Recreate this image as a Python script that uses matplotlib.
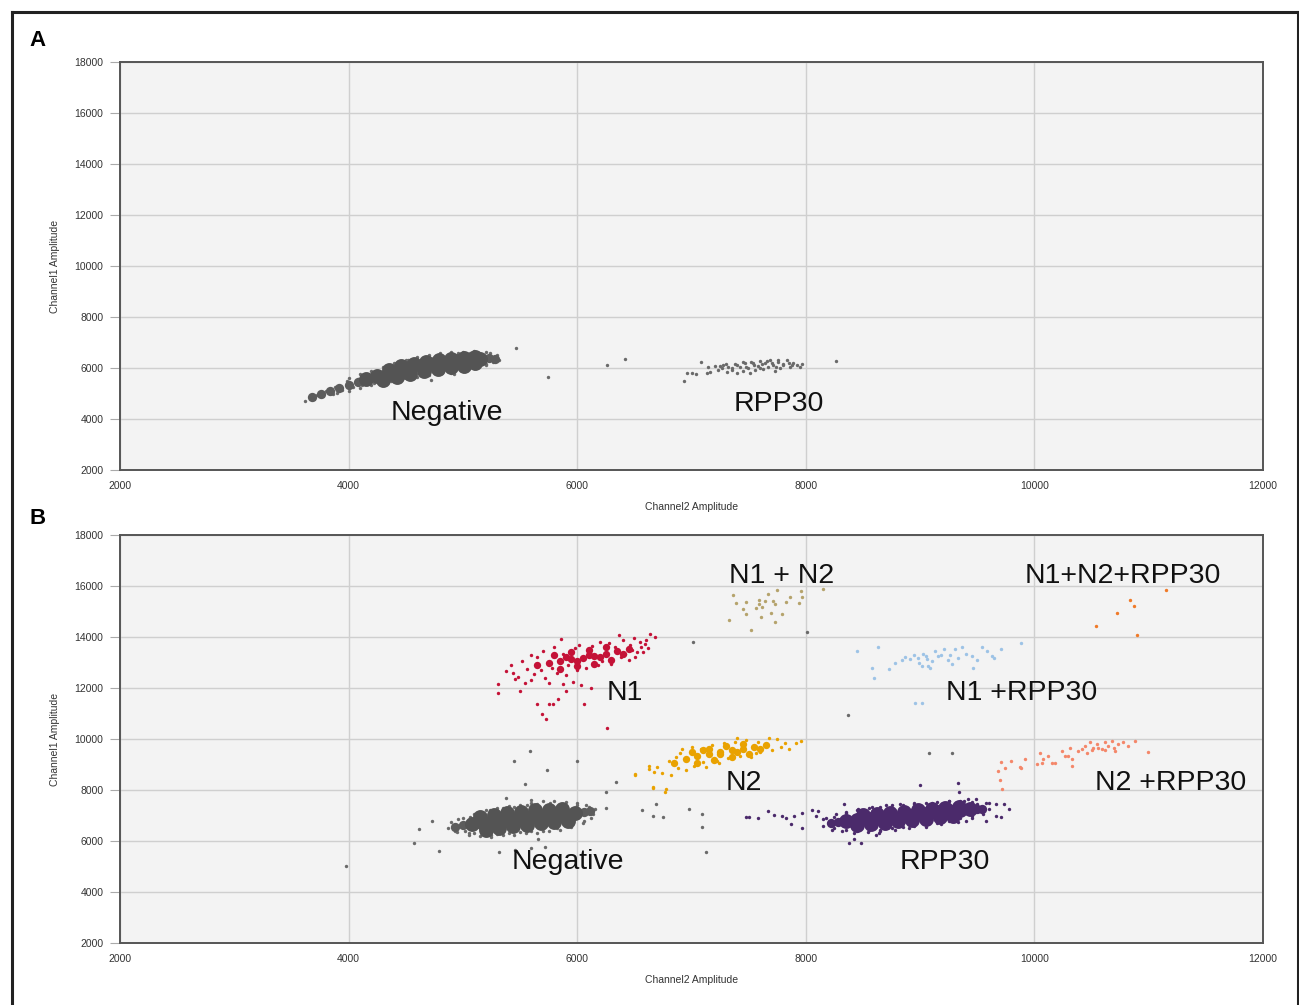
import matplotlib
matplotlib.use("Agg")
import matplotlib.pyplot as plt
from matplotlib.lines import Line2D

# ---------------- data (Channel2 amplitude = x, Channel1 amplitude = y) ----------------
x_ticks = [2000, 4000, 6000, 8000, 10000, 12000]
y_ticks = [2000, 4000, 6000, 8000, 10000, 12000, 14000, 16000, 18000]

# Panel A - Negative cluster: dense core, tapered tip, fringe droplets
a_neg_core_x = [4150, 4250, 4350, 4450, 4550, 4650, 4750, 4850, 4950, 5050, 5150,
                4350, 4460, 4570, 4680, 4790, 4900, 5010, 5110,
                4300, 4420, 4540, 4660, 4780, 4900, 5010, 5110]
a_neg_core_y = [5560, 5680, 5800, 5920, 6020, 6090, 6150, 6210, 6260, 6320, 6370,
                5930, 6060, 6170, 6250, 6310, 6360, 6390, 6420,
                5540, 5660, 5780, 5870, 5950, 6020, 6090, 6180]
a_neg_tip_x = [3680, 3760, 3840, 3920, 4000, 4080, 5230, 5280]
a_neg_tip_y = [4880, 4990, 5110, 5230, 5340, 5450, 6380, 6360]
a_neg_x = [3620, 3660, 3700, 3720, 3780, 3800, 3860, 3880, 3940, 3990, 4040, 4080, 4120, 4180, 4220, 4290,
           4330, 4370, 4420, 4480, 4520, 4560, 4600, 4640, 4700, 4720, 4780, 4820, 4880, 4920, 4960, 5020,
           5060, 5100, 5160, 5200, 5240, 5260, 5300, 5320, 5280,
           4000, 4100, 4200, 4300, 4400, 4500, 4600, 4700, 4800, 4900, 5000, 5100, 5200,
           3900, 4000, 4100, 4200, 4300, 4400, 4500, 4600, 4700, 4800, 4900, 5000, 5100, 5200]
a_neg_y = [4700, 4850, 4780, 4950, 4900, 5080, 4980, 5250, 5120, 5480, 5250, 5580, 5350, 5720, 5420, 5340,
           5900, 5480, 6150, 5600, 6300, 5620, 6350, 5700, 6450, 5540, 6520, 5800, 6550, 5760, 6580, 5900,
           6600, 6050, 6560, 6150, 6600, 6250, 6500, 6300, 6400,
           5620, 5750, 5880, 6050, 6200, 6330, 6420, 6500, 6580, 6620, 6640, 6650, 6620,
           5000, 5100, 5200, 5320, 5420, 5520, 5600, 5660, 5720, 5780, 5820, 5900, 6000, 6120]
a_out_x = [5465, 5743, 6261, 6414, 8262]
a_out_y = [6800, 5664, 6122, 6358, 6278]

# Panel A - RPP30 cluster
a_rpp_x = [6935, 6958, 7002, 7040, 7081, 7148, 7133, 7163, 7206, 7235, 7265, 7279, 7308, 7323, 7352, 7381,
           7396, 7425, 7454, 7469, 7498, 7513, 7542, 7556, 7585, 7600, 7629, 7644, 7673, 7688, 7711, 7731,
           7760, 7775, 7804, 7833, 7863, 7892, 7921, 7950, 7965, 7300, 7400, 7480, 7550, 7620, 7700, 7740,
           7800, 7850, 7600, 7450, 7350, 7520, 7660, 7760, 7880, 7250]
a_rpp_y = [5507, 5795, 5821, 5769, 6226, 6056, 5795, 5860, 6083, 5926, 5991, 6122, 5860, 6056, 5926, 6161,
           5795, 6030, 5900, 6187, 5991, 5795, 6187, 5926, 6083, 6292, 5952, 6187, 6056, 6318, 6122, 5900,
           6252, 5991, 6161, 6318, 6056, 6213, 6122, 6056, 6161, 6150, 6100, 6050, 6100, 6150, 6200, 6050,
           6100, 6180, 6000, 6250, 6000, 6240, 6260, 6300, 6120, 6080]

# Panel B - Negative cluster
b_neg_core_x = [5080, 5180, 5280, 5380, 5480, 5580, 5680, 5780, 5880, 5980,
                5150, 5270, 5390, 5510, 5630, 5750, 5870,
                5200, 5320, 5440, 5560, 5680, 5800, 5920]
b_neg_core_y = [6650, 6710, 6760, 6820, 6870, 6910, 6950, 6980, 7030, 7080,
                6950, 7020, 7080, 7150, 7200, 7230, 7260,
                6450, 6520, 6580, 6640, 6690, 6730, 6800]
b_neg_tip_x = [4930, 5000, 6060, 6110]
b_neg_tip_y = [6560, 6610, 7130, 7160]
b_neg_x = [4870, 4900, 4930, 4960, 5020, 5060, 5100, 5130, 5200, 5240, 5300, 5350, 5400, 5450, 5500, 5560,
           5600, 5650, 5700, 5760, 5820, 5880, 5940, 6000, 6060, 6100, 6140, 6160, 5380, 5600, 5250, 5050,
           5000, 5100, 5200, 5300, 5400, 5500, 5600, 5700, 5800, 5900, 6000, 6080,
           4950, 5050, 5150, 5250, 5350, 5450, 5550, 5650, 5750, 5850, 5950, 6050, 6120]
b_neg_y = [6500, 6750, 6380, 6850, 6400, 6950, 6300, 7100, 6230, 7200, 6280, 7300, 6300, 7350, 6350, 7400,
           6400, 7450, 6380, 7480, 6500, 7450, 6600, 7400, 6800, 7350, 7050, 7250, 7700, 7600, 6150, 6250,
           6900, 7050, 7200, 7280, 7380, 7420, 7500, 7550, 7550, 7520, 7480, 7420,
           6350, 6300, 6200, 6220, 6230, 6250, 6300, 6330, 6400, 6450, 6550, 6700, 6900]
b_grey_x = [3980, 4570, 4620, 4730, 4790, 5320, 5460, 5600, 5720, 5660, 5450, 5590, 5540, 6000, 5740, 6250,
            6340, 6250, 7010, 8370, 8010, 6570, 6690, 6660, 6750, 6980, 7090, 7090, 7130, 9080, 9275]
b_grey_y = [5020, 5930, 6470, 6780, 5610, 5550, 5640, 5730, 5770, 6070, 9150, 9510, 8230, 9150, 8800, 7940,
            8300, 7300, 13820, 10960, 14180, 7220, 7440, 6980, 6960, 7240, 7050, 6550, 5580, 9440, 9440]

# Panel B - N1
n1_core_x = [5650, 5750, 5850, 5950, 6050, 6150, 6250, 6350, 6450, 5800, 5950, 6100, 6250, 5850, 6000, 6150,
             6300, 5900, 6000, 6100, 6200, 6400]
n1_core_y = [12900, 12980, 13050, 13120, 13190, 13260, 13350, 13440, 13530, 13300, 13400, 13480, 13600,
             12750, 12850, 12950, 13100, 13200, 13050, 13300, 13200, 13350]
n1_x = [5310, 5310, 5500, 5650, 5690, 5730, 5750, 5790, 5830, 6060, 6120, 6260, 5440, 5600, 5650, 5860,
        6370, 6640, 6590, 6510, 6580, 5960, 6030, 6480, 5380, 5420, 5480, 5520, 5560, 5600, 5620, 5680,
        5700, 5720, 5780, 5800, 5820, 5880, 5900, 5920, 5980, 6000, 6020, 6080, 6100, 6130, 6180, 6200,
        6220, 6280, 6300, 6330, 6380, 6400, 6420, 6460, 6500, 6520, 6560, 6600, 6620, 6680, 6550, 6450,
        5750, 5880, 5540, 5460, 5900]
n1_y = [11820, 12170, 11880, 11390, 10990, 10800, 11360, 11390, 11580, 11390, 12010, 10430, 12600, 12300,
        13220, 13940, 14070, 14110, 13740, 13220, 13410, 12240, 12130, 13480, 12650, 12900, 12450, 13050,
        12750, 13300, 12550, 12700, 13450, 12400, 12800, 13600, 12600, 13350, 12500, 12900, 13550, 12700,
        13700, 12800, 13350, 13650, 12900, 13800, 13050, 13750, 12950, 13600, 13200, 13900, 13350, 13700,
        13950, 13400, 13600, 13900, 13550, 14000, 13800, 13100, 12200, 12150, 12200, 12350, 11900]

# Panel B - N2
n2_core_x = [6850, 6950, 7050, 7150, 7250, 7350, 7450, 7550, 7650, 7000, 7150, 7300, 7450, 7050, 7200, 7350,
             7500, 7100, 7250, 7400, 7600]
n2_core_y = [9050, 9200, 9320, 9420, 9490, 9560, 9620, 9700, 9770, 9480, 9620, 9720, 9820, 9050, 9180, 9300,
             9420, 9550, 9400, 9500, 9620]
n2_x = [6630, 6780, 6510, 6660, 7750, 7960, 7910, 6510, 6630, 6670, 6770, 6660, 6860, 6920, 6700, 6740,
        6800, 6820, 6880, 6900, 6950, 7000, 7020, 7080, 7100, 7180, 7220, 7280, 7320, 7380, 7420, 7480,
        7520, 7580, 7600, 7680, 7700, 7780, 7820, 7850, 7130, 7240, 7560, 7400]
n2_y = [8810, 8030, 8620, 8090, 9990, 9920, 9860, 8580, 8940, 8710, 7920, 8120, 9300, 9620, 8900, 8650,
        9150, 8600, 8850, 9450, 8800, 9700, 8950, 9600, 9100, 9750, 9150, 9850, 9250, 9900, 9350, 9950,
        9300, 9900, 9500, 10050, 9550, 9700, 9850, 9600, 8900, 9050, 9450, 10050]

# Panel B - N1 + N2
n12_x = [7364, 7393, 7475, 7452, 7475, 7562, 7591, 7615, 7591, 7665, 7717, 7729, 7752, 7825, 7860, 7796,
         7732, 7606, 7519, 7329, 7965, 7942, 7956, 8149, 7694, 7644]
n12_y = [15647, 15320, 15373, 15111, 14889, 15150, 15281, 15190, 15451, 15673, 15412, 15281, 15843, 15373,
         15569, 14889, 14588, 14798, 14275, 14667, 15582, 15346, 15804, 15895, 14954, 15412]

# Panel B - N1 + RPP30
n1r_x = [8445, 8635, 8577, 8600, 8728, 8781, 8839, 8868, 8912, 8985, 9029, 9058, 9073, 9014, 8956, 9131,
         9160, 9212, 9262, 9306, 9335, 9364, 9452, 9466, 9539, 9583, 9627, 9650, 9708, 9883, 9087, 8990,
         9050, 9100, 9180, 9240, 9283, 8950, 9020, 9400, 9500]
n1r_y = [13451, 13621, 12798, 12406, 12733, 12968, 13098, 13229, 13125, 13190, 13320, 13151, 12863, 11426,
         11399, 13451, 13255, 13543, 13281, 13517, 13177, 13621, 13255, 12798, 13621, 13451, 13255, 13190,
         13543, 13752, 12798, 13000, 13250, 13050, 13300, 13100, 12950, 13280, 12880, 13350, 13100]

# Panel B - N2 + RPP30
n2r_x = [9685, 9708, 9743, 9700, 9714, 9793, 9883, 9918, 10050, 10073, 10123, 10181, 10239, 10268, 10312,
         10292, 10327, 10385, 10443, 10458, 10487, 10516, 10545, 10589, 10618, 10647, 10677, 10706, 10735,
         10779, 10823, 10881, 10992, 10327, 10152, 10070, 10020, 9875, 10560, 10620, 10700, 10500, 10420]
n2r_y = [8746, 9099, 8877, 8393, 8027, 9138, 8877, 9204, 9465, 9230, 9334, 9073, 9530, 9334, 9661,
         9334, 9204, 9530, 9726, 9465, 9883, 9661, 9792, 9596, 9883, 9726, 9922, 9530, 9792,
         9883, 9726, 9922, 9491, 8942, 9047, 9073, 9008, 8903, 9650, 9550, 9650, 9550, 9600]

# Panel B - N1 + N2 + RPP30
n12r_x = [11150, 10840, 10870, 10720, 10540, 10895]
n12r_y = [15850, 15450, 15220, 14950, 14430, 14090]

# Panel B - RPP30
b_rpp_core_x = [8350, 8450, 8550, 8650, 8750, 8850, 8950, 9050, 9150, 9250, 9350, 9440,
                8500, 8620, 8740, 8860, 8980, 9100, 9220, 9340,
                8450, 8570, 8690, 8810, 8930, 9050, 9170, 9290]
b_rpp_core_y = [6770, 6810, 6850, 6900, 6940, 6980, 7020, 7070, 7120, 7170, 7210, 7240,
                7030, 7070, 7110, 7150, 7200, 7250, 7300, 7320,
                6640, 6680, 6720, 6770, 6820, 6870, 6930, 6980]
b_rpp_tip_x = [8220, 8280, 9500, 9540]
b_rpp_tip_y = [6720, 6740, 7250, 7260]
b_rpp_x = [8150, 8180, 8230, 8260, 8320, 8350, 8420, 8460, 8540, 8580, 8650, 8700, 8780, 8820, 8900, 8950,
           9050, 9100, 9180, 9250, 9330, 9380, 9450, 9500, 9550, 9560,
           7475, 7505, 7585, 7665, 7725, 7795, 7825, 7900, 7970, 7970, 8050, 8090, 8150, 8110, 7870, 8330,
           8380, 8420, 8480, 8610, 8640, 9000, 9340, 9330, 9415, 9490, 9575, 9605, 9605, 9665, 9735, 9775,
           9665, 9705, 9575, 9400,
           8250, 8350, 8450, 8550, 8650, 8750, 8850, 8950, 9050, 9150, 9250, 9350, 9450,
           8250, 8350, 8450, 8550, 8650, 8750, 8850, 8950, 9050, 9150, 9250, 9350, 9450]
b_rpp_y = [6600, 6900, 6450, 7050, 6400, 7150, 6300, 7250, 6350, 7350, 6400, 7400, 6450, 7450, 6500, 7500,
           6550, 7500, 6650, 7550, 6750, 7550, 6900, 7450, 7050, 7300,
           6960, 6960, 6890, 7180, 7010, 6980, 6920, 6980, 6520, 7110, 7220, 6980, 6850, 7180, 6660, 7470,
           5910, 6090, 5940, 6220, 6330, 8180, 7940, 8260, 7660, 7640, 7500, 7240, 7480, 7440, 7440, 7240,
           6980, 6960, 6790, 6790,
           6950, 7100, 7200, 7300, 7350, 7400, 7420, 7450, 7480, 7520, 7550, 7560, 7520,
           6500, 6420, 6380, 6420, 6450, 6500, 6550, 6600, 6650, 6700, 6800, 6900, 7000]

labels_a = [("Negative", 4861, 4240), ("RPP30", 7766, 4594)]
labels_b = [("N1 + N2", 7784, 16393), ("N1+N2+RPP30", 10776, 16393), ("N1", 6419, 11806),
            ("N1 +RPP30", 9884, 11806), ("N2", 7460, 8278), ("N2 +RPP30", 11188, 8278),
            ("Negative", 5920, 5182), ("RPP30", 9219, 5182)]

# ---------------- styling ----------------
GREY_CORE = "#545454"
GREY_MID = "#5c5c5c"
GREY = "#6a6a6a"
C_N1 = "#c41237"
C_N2 = "#e9a200"
C_N12 = "#b5a36c"
C_N1R = "#9dc3e6"
C_N2R = "#f4876a"
C_N12R = "#f07a28"
C_RPP = "#4b2a6b"
S_CORE = 115
S_TIP = 45
S_MID = 28
S_DOT = 6

plt.rcParams["font.family"] = ["Liberation Sans", "DejaVu Sans"]
fig = plt.figure(figsize=(12.99, 10.05), dpi=100)

tick_font = dict(family=["Liberation Sans Narrow", "Liberation Sans", "DejaVu Sans"], size=7.5, color="#333333")


def setup(ax):
    ax.set_facecolor("#f3f3f3")
    ax.set_xlim(2000, 12000)
    ax.set_ylim(2000, 18000)
    ax.set_xticks(x_ticks)
    ax.set_yticks(y_ticks)
    ax.set_xticklabels([str(v) for v in x_ticks], fontdict=tick_font)
    ax.set_yticklabels([str(v) for v in y_ticks], fontdict=tick_font)
    ax.grid(True, color="#cfcfcf", linewidth=1.0)
    ax.set_axisbelow(True)
    ax.tick_params(axis="x", length=0, pad=8)
    ax.tick_params(axis="y", length=7, color="#aaaaaa", pad=5, width=0.8)
    for s in ax.spines.values():
        s.set_color("#555555")
        s.set_linewidth(1.4)
    ax.set_xlabel("Channel2 Amplitude", fontdict=tick_font, labelpad=8)
    ax.set_ylabel("Channel1 Amplitude", fontdict=tick_font, labelpad=10)


def dots(ax, x, y, c, s=S_DOT):
    ax.scatter(x, y, s=s, c=c, linewidths=0, zorder=3)


axA = fig.add_axes([0.09238, 0.53234, 0.87991, 0.40597])
axB = fig.add_axes([0.09238, 0.06169, 0.87991, 0.40597])
setup(axA)
setup(axB)

# Panel A
dots(axA, a_neg_x, a_neg_y, GREY)
dots(axA, a_neg_tip_x, a_neg_tip_y, GREY_MID, S_TIP)
dots(axA, a_neg_core_x, a_neg_core_y, GREY_CORE, S_CORE)
dots(axA, a_out_x, a_out_y, GREY)
dots(axA, a_rpp_x, a_rpp_y, GREY)
for t, x, y in labels_a:
    axA.text(x, y, t, ha="center", va="center", fontsize=20.5, color="#111111", zorder=5)

# Panel B
dots(axB, b_grey_x, b_grey_y, GREY)
dots(axB, b_neg_x, b_neg_y, GREY)
dots(axB, b_neg_tip_x, b_neg_tip_y, GREY_MID, S_TIP)
dots(axB, b_neg_core_x, b_neg_core_y, GREY_CORE, S_CORE)
dots(axB, n1_x, n1_y, C_N1)
dots(axB, n1_core_x, n1_core_y, C_N1, S_MID)
dots(axB, n2_x, n2_y, C_N2)
dots(axB, n2_core_x, n2_core_y, C_N2, S_MID)
dots(axB, n12_x, n12_y, C_N12)
dots(axB, n1r_x, n1r_y, C_N1R)
dots(axB, n2r_x, n2r_y, C_N2R)
dots(axB, n12r_x, n12r_y, C_N12R)
dots(axB, b_rpp_x, b_rpp_y, C_RPP)
dots(axB, b_rpp_tip_x, b_rpp_tip_y, C_RPP, S_TIP)
dots(axB, b_rpp_core_x, b_rpp_core_y, C_RPP, S_CORE)
for t, x, y in labels_b:
    axB.text(x, y, t, ha="center", va="center", fontsize=20.5, color="#111111", zorder=5)

# panel letters and outer frame
fig.text(38 / 1299, 1 - 40 / 1005, "A", fontsize=16, fontweight="bold", ha="center", va="center")
fig.text(38 / 1299, 1 - 518 / 1005, "B", fontsize=16, fontweight="bold", ha="center", va="center")
frame = dict(color="#222222", linewidth=2.2, transform=fig.transFigure)
fig.add_artist(Line2D([12 / 1299, 12 / 1299], [0, 1 - 12 / 1005], **frame))
fig.add_artist(Line2D([12 / 1299, 1], [1 - 12 / 1005, 1 - 12 / 1005], **frame))
fig.add_artist(Line2D([1297.5 / 1299, 1297.5 / 1299], [0, 1 - 12 / 1005], **frame))

fig.savefig("out.png", dpi=100, facecolor="white")
